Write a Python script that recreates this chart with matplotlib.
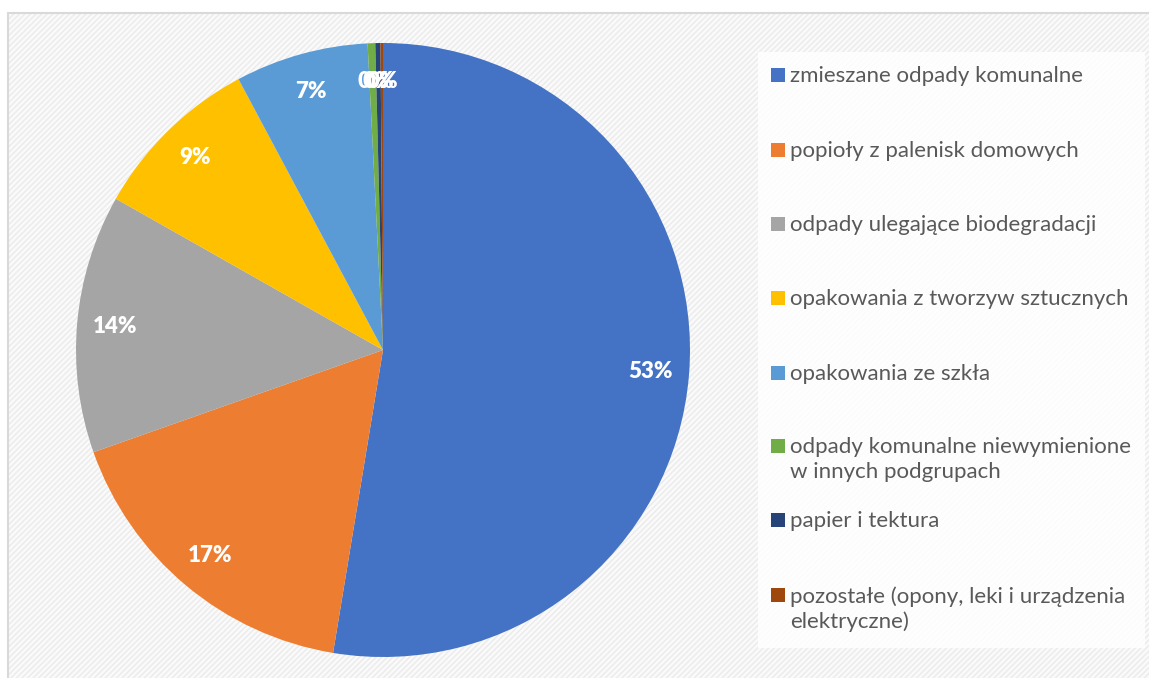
import matplotlib.pyplot as plt
from matplotlib.patches import Rectangle

plt.rcParams['font.family'] = ['Lato', 'DejaVu Sans']

labels = ['zmieszane odpady komunalne',
          'popioły z palenisk domowych',
          'odpady ulegające biodegradacji',
          'opakowania z tworzyw sztucznych',
          'opakowania ze szkła',
          'odpady komunalne niewymienione\nw innych podgrupach',
          'papier i tektura',
          'pozostałe (opony, leki i urządzenia\nelektryczne)']
values = [52.6, 17.0, 13.6, 9.0, 7.0, 0.4, 0.27, 0.13]
colors = ['#4472C4', '#ED7D31', '#A5A5A5', '#FFC000', '#5B9BD5',
          '#70AD47', '#264478', '#9E480E']

W, H = 1149, 678
fig = plt.figure(figsize=(W / 100, H / 100), dpi=100)
fig.patch.set_facecolor('white')

# chart area: hatched background with light border
plt.rcParams['hatch.color'] = '#ebebeb'
plt.rcParams['hatch.linewidth'] = 1.0
bg = Rectangle((8 / W, 0), 1, 1 - 13 / H, transform=fig.transFigure,
               facecolor='#fafafa', edgecolor='#ebebeb', hatch='//////',
               linewidth=0, zorder=-3)
fig.patches.append(bg)
border = Rectangle((8 / W, -0.01), 1, 1 - 13 / H + 0.01, transform=fig.transFigure,
                   facecolor='none', edgecolor='#d9d9d9', linewidth=1.5, zorder=-2)
fig.patches.append(border)

# legend box
lbox = Rectangle((758 / W, 1 - 648 / H), (1145 - 758) / W, (648 - 52) / H,
                 transform=fig.transFigure, facecolor='white', edgecolor='none',
                 alpha=0.85, zorder=-1)
fig.patches.append(lbox)

cx, cy, r = 383, 350, 307
ax = fig.add_axes([(cx - r) / W, (H - cy - r) / H, 2 * r / W, 2 * r / H])
wedges, texts, autotexts = ax.pie(values, colors=colors, startangle=90,
                                  counterclock=False, autopct='%.0f%%',
                                  pctdistance=0.875, radius=1,
                                  wedgeprops=dict(linewidth=0))
for t in autotexts:
    t.set_color('white')
    t.set_fontweight('heavy')
    t.set_fontsize(16)
ax.set_xlim(-1, 1)
ax.set_ylim(-1, 1)
ax.set_aspect('equal')
ax.axis('off')

# legend entries
row_y = [75, 150, 224, 298, 373, 446, 520, 595]
for lab, col, y in zip(labels, colors, row_y):
    fig.patches.append(Rectangle((771 / W, 1 - (y + 7) / H), 14 / W, 14 / H,
                                 transform=fig.transFigure, facecolor=col,
                                 edgecolor='none', zorder=2))
    fig.text(790 / W, 1 - (y - 9) / H, lab, fontsize=16, color='#595959',
             va='top', ha='left', linespacing=1.3, zorder=3)

fig.savefig('out.png', dpi=100)
